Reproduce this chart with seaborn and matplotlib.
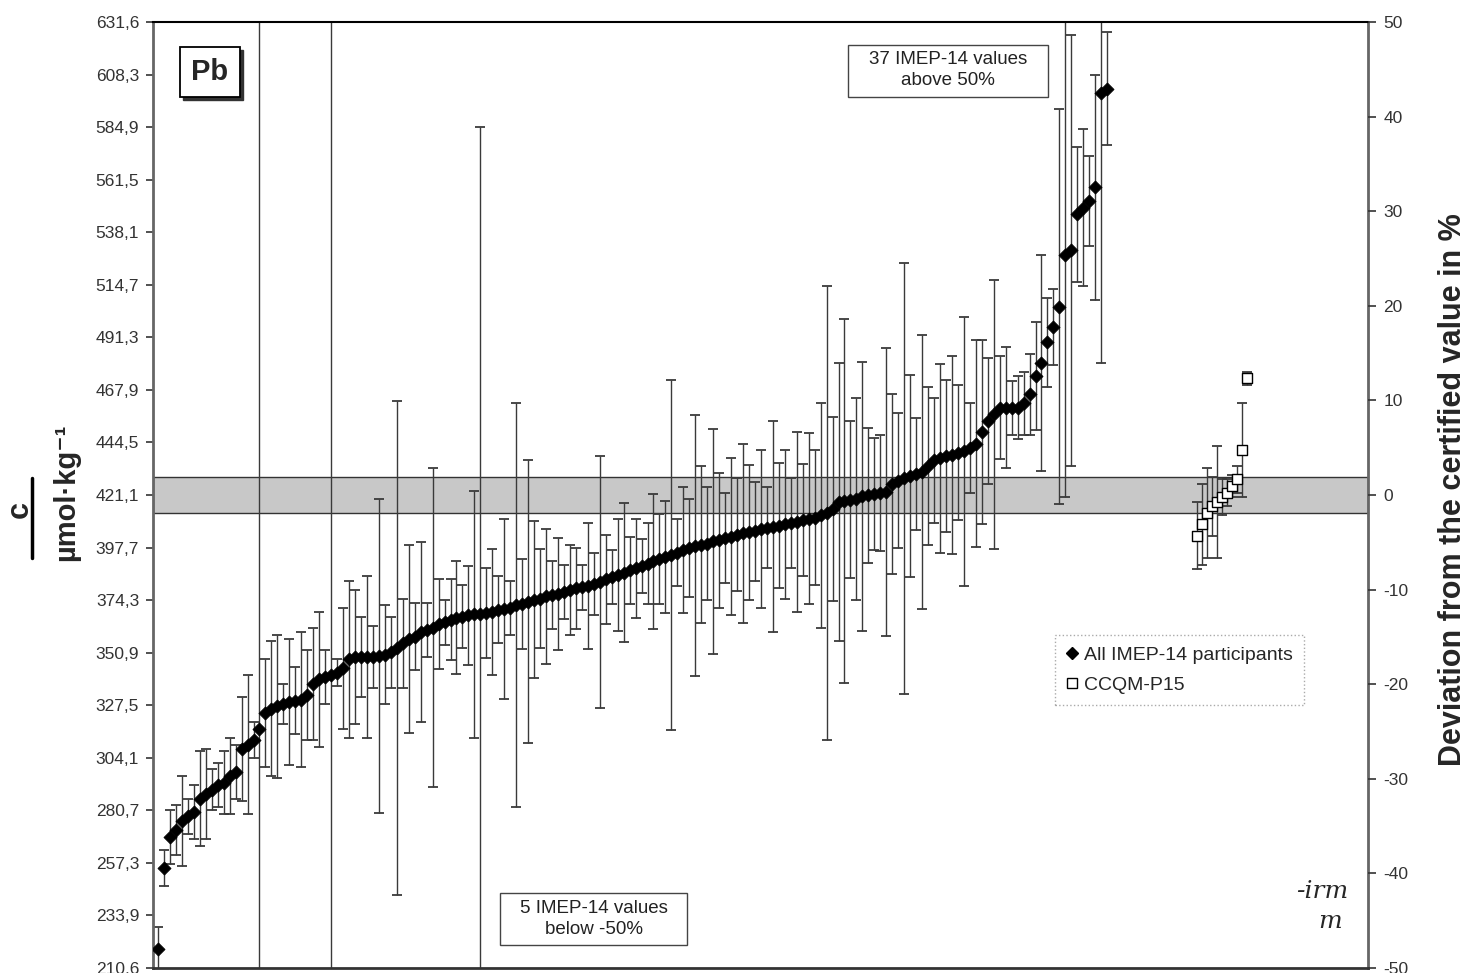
import numpy as np
import matplotlib
matplotlib.use('Agg')
import matplotlib.pyplot as plt
import seaborn as sns
from matplotlib.lines import Line2D
from matplotlib.patches import Rectangle

# certified value and its band (µmol/kg)
CERT = 421.1
BAND = 8.0

# IMEP-14 participant results, sorted (µmol/kg) and their uncertainties
imep_values = [
    219, 255, 269, 272, 276, 278, 280, 286, 288, 290,
    292, 293, 296, 298, 308, 310, 312, 317, 324, 326,
    327, 328, 329, 329.5, 330, 332, 337, 339, 340, 341,
    342, 344, 348, 349, 349, 349, 349, 349.5, 350, 351,
    353, 355, 357, 358, 360, 361, 362, 363.5, 364.5, 365.5,
    366.5, 367, 367.5, 368, 368, 368.5, 369, 370, 370.5, 371,
    372, 372.5, 373.5, 374.5, 375, 376, 376.5, 377, 378, 379,
    379.5, 380, 380.5, 381.5, 382.5, 383.5, 384.5, 385.5, 386.5, 387.5,
    388.5, 389.5, 390.5, 391.5, 392.5, 393.5, 394.5, 395.5, 396.5, 397.5,
    398.5, 399, 399.5, 400.5, 401, 402, 402.5, 403.5, 404, 404.5,
    405, 406, 406.5, 407, 407.5, 408, 408.5, 409, 410, 410.5,
    411, 412, 413, 415, 418, 418.5, 419, 419.5, 420.5, 421,
    421.5, 422, 422.5, 426, 427.5, 428.5, 429.5, 430.5, 431.5, 434,
    436.5, 437.5, 438.5, 439, 440, 440.5, 442, 444, 449, 454,
    457, 460, 460, 460, 460, 462, 466, 474, 480, 489,
    496, 505, 528, 530, 546, 549, 552, 558, 600, 602,
]
imep_errors = [
    10, 8, 12, 11, 20, 8, 12, 21, 20, 9,
    10, 14, 17, 12, 23, 31, 8, 330, 24, 30,
    32, 9, 28, 15, 30, 20, 25, 30, 12, 330,
    6, 27, 35, 30, 18, 36, 14, 70, 22, 16,
    110, 20, 42, 15, 40, 12, 71, 20, 10, 18,
    25, 14, 22, 55, 217, 20, 28, 15, 40, 12,
    90, 20, 63, 35, 22, 30, 15, 25, 12, 20,
    18, 10, 28, 14, 56, 20, 12, 25, 31, 15,
    22, 12, 18, 30, 20, 25, 78, 15, 28, 22,
    58, 35, 25, 50, 30, 20, 35, 25, 40, 30,
    22, 35, 18, 47, 28, 33, 20, 40, 25, 38,
    30, 50, 101, 41, 62, 81, 35, 45, 60, 30,
    25, 26, 64, 40, 30, 96, 45, 25, 61, 35,
    28, 42, 34, 44, 30, 60, 20, 46, 41, 28,
    60, 23, 27, 12, 14, 14, 18, 24, 48, 20,
    17, 88, 108, 96, 30, 35, 20, 50, 120, 25,
]

# CCQM-P15 results
ccqm_values = [403, 408, 413, 416, 418, 420, 422, 425, 428, 441, 473]
ccqm_errors = [15, 18, 20, 13, 25, 8, 6, 5, 6, 21, 3]

left_tick_labels = ['210,6', '233,9', '257,3', '280,7', '304,1', '327,5', '350,9',
                    '374,3', '397,7', '421,1', '444,5', '467,9', '491,3', '514,7',
                    '538,1', '561,5', '584,9', '608,3', '631,6']
right_ticks = [-50, -40, -30, -20, -10, 0, 10, 20, 30, 40, 50]

sns.set_style('white')
plt.rcParams['font.family'] = ['Liberation Sans', 'DejaVu Sans']

W, H = 1469, 973
fig = plt.figure(figsize=(W / 100, H / 100), dpi=100)
ax = fig.add_axes([153 / W, 5 / H, 1215 / W, 946 / H])

imep_x = np.arange(len(imep_values))
ccqm_x = 174 + 0.85 * np.arange(len(ccqm_values))

# certified value band
ax.axhspan(CERT - BAND, CERT + BAND, facecolor='#c8c8c8', edgecolor='#333333',
           linewidth=1.0, zorder=1)

# error bars
ax.errorbar(imep_x, imep_values, yerr=imep_errors, fmt='none', ecolor='#3a3a3a',
            elinewidth=1.0, capsize=3.5, capthick=1.3, zorder=2)
ax.errorbar(ccqm_x, ccqm_values, yerr=ccqm_errors, fmt='none', ecolor='#3a3a3a',
            elinewidth=1.0, capsize=3.5, capthick=1.3, zorder=2)

# markers
sns.scatterplot(x=imep_x, y=imep_values, marker='D', color='black', s=44,
                edgecolor='black', linewidth=0.6, ax=ax, zorder=3, legend=False)
sns.scatterplot(x=ccqm_x, y=ccqm_values, marker='s', color='white', s=42,
                edgecolor='black', linewidth=1.0, ax=ax, zorder=3, legend=False)

ax.set_xlim(-0.84, 202.7)
ax.set_ylim(CERT * 0.5, CERT * 1.5)
ax.set_yticks(np.linspace(CERT * 0.5, CERT * 1.5, len(left_tick_labels)))
ax.set_yticklabels(left_tick_labels)
ax.set_xticks([])
ax.tick_params(axis='y', direction='out', length=5, width=1.2, labelsize=12.5,
               colors='#333333', pad=5, left=True)

for side in ['left', 'right']:
    ax.spines[side].set_color('#666666')
    ax.spines[side].set_linewidth(2)
ax.spines['top'].set_color('black')
ax.spines['top'].set_linewidth(1.5)
ax.spines['bottom'].set_color('#333333')
ax.spines['bottom'].set_linewidth(2)

ax2 = ax.twinx()
ax2.set_ylim(-50, 50)
ax2.set_yticks(right_ticks)
ax2.set_yticklabels([str(t) for t in right_ticks])
ax2.tick_params(axis='y', direction='out', length=6, width=1.2, labelsize=12.5,
                colors='#333333', pad=5, right=True)
for s in ax2.spines.values():
    s.set_visible(False)

# "Pb" label with shadow
ax.add_patch(Rectangle((0.0247, 0.9175), 0.0494, 0.0529, transform=ax.transAxes,
                       facecolor='#333333', edgecolor='#333333', zorder=5))
ax.add_patch(Rectangle((0.0222, 0.9207), 0.0494, 0.0529, transform=ax.transAxes,
                       facecolor='white', edgecolor='black', linewidth=1.3, zorder=6))
ax.text(0.0469, 0.9471, 'Pb', transform=ax.transAxes, fontsize=21, fontweight='bold',
        ha='center', va='center', zorder=7)

# note boxes
ax.add_patch(Rectangle((0.572, 0.921), 0.165, 0.055, transform=ax.transAxes,
                       facecolor='white', edgecolor='#444444', linewidth=1.0, zorder=5))
ax.text(0.6543, 0.9488, '37 IMEP-14 values\nabove 50%', transform=ax.transAxes,
        fontsize=13.5, ha='center', va='center', linespacing=1.3, color='#222222', zorder=6)
ax.add_patch(Rectangle((0.2856, 0.0243), 0.1539, 0.055, transform=ax.transAxes,
                       facecolor='white', edgecolor='#444444', linewidth=1.0, zorder=5))
ax.text(0.3626, 0.0518, '5 IMEP-14 values\nbelow -50%', transform=ax.transAxes,
        fontsize=13.5, ha='center', va='center', linespacing=1.3, color='#222222', zorder=6)

# legend
handles = [
    Line2D([], [], marker='D', color='black', linestyle='none', markersize=6),
    Line2D([], [], marker='s', markerfacecolor='white', markeredgecolor='black',
           linestyle='none', markersize=7),
]
leg = ax.legend(handles, ['All IMEP-14 participants', 'CCQM-P15'], loc='upper left',
                bbox_to_anchor=(0.742, 0.352), borderaxespad=0, fontsize=14,
                handlelength=0.6, handletextpad=0.3, labelspacing=0.6,
                borderpad=0.6, fancybox=False, framealpha=1)
leg.get_frame().set_edgecolor('#aaaaaa')
leg.get_frame().set_linestyle(':')
leg.set_zorder(8)

# axis titles
fig.text(20 / W, 1 - 509 / H, 'c', rotation=90, fontsize=22, fontweight='bold',
         ha='center', va='center')
fig.add_artist(Line2D([32 / W, 32 / W], [1 - 478 / H, 1 - 558 / H], color='black',
                      linewidth=2.5, transform=fig.transFigure))
fig.text(66 / W, 1 - 492 / H, 'µmol·kg⁻¹', rotation=90, fontsize=21,
         fontweight='bold', ha='center', va='center')
fig.text(1453 / W, 1 - 490 / H, 'Deviation from the certified value in %', rotation=90,
         fontsize=22, fontweight='bold', ha='center', va='center')

# irm logo
fig.text(1322 / W, 1 - 892 / H, '-irm', fontsize=18, style='italic',
         family='DejaVu Serif', ha='center', va='center')
fig.text(1330 / W, 1 - 922 / H, 'm', fontsize=18, style='italic',
         family='DejaVu Serif', ha='center', va='center')

fig.savefig('out.png', dpi=100)
